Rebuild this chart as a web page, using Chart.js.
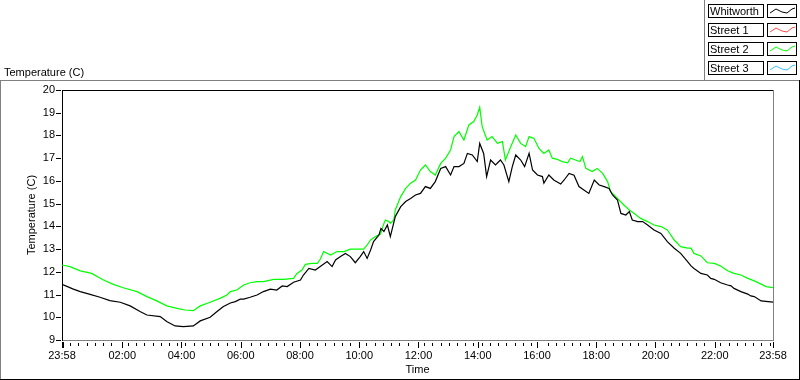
<!DOCTYPE html>
<html><head><meta charset="utf-8">
<script src="https://cdn.jsdelivr.net/npm/chart.js@4.4.1/dist/chart.umd.min.js"></script>
<style>html,body{margin:0;padding:0;background:#fff;}canvas{display:block;}</style>
</head><body>
<canvas id="c" width="800" height="380"></canvas>
<script>
const seriesNames = ['Whitworth', 'Street 1', 'Street 2', 'Street 3'];
const seriesColors = ['#000000', '#ff4a4a', '#00ff00', '#38bfff'];

// minutes after the 23:58 start
const whitworthMin = [0,23,37,57,77,97,118,138,158,172,199,212,229,246,266,280,300,314,327,341,351,361,368,381,395,408,422,435,446,456,469,483,489,500,513,523,537,547,554,564,574,584,594,604,611,618,625,631,642,646,652,659,665,675,686,696,706,716,726,736,746,756,767,777,787,794,804,814,821,831,841,846,854,860,868,878,888,895,905,912,919,929,937,946,953,963,973,976,986,996,1010,1017,1027,1037,1047,1057,1067,1078,1088,1098,1108,1115,1125,1132,1142,1149,1155,1166,1176,1186,1199,1213,1226,1240,1253,1267,1274,1280,1294,1307,1314,1321,1334,1348,1355,1361,1375,1389,1395,1402,1416,1440];
const whitworthTemp = [11.45,11.24,11.13,11.01,10.88,10.73,10.66,10.50,10.25,10.10,10.03,9.81,9.62,9.59,9.62,9.84,10.00,10.25,10.47,10.63,10.69,10.80,10.80,10.88,10.98,11.13,11.24,11.20,11.38,11.35,11.54,11.64,11.86,12.15,12.08,12.23,12.45,12.23,12.52,12.67,12.81,12.67,12.40,12.67,12.89,12.59,12.96,13.33,13.62,13.91,13.77,14.06,13.55,14.43,14.87,15.09,15.23,15.38,15.45,15.75,15.67,15.97,16.55,16.63,16.26,16.63,16.63,16.77,17.21,17.14,16.85,17.65,17.21,16.19,16.92,16.70,16.92,16.70,15.97,16.63,17.14,16.92,16.63,17.21,16.48,16.26,16.19,15.90,16.26,16.04,15.86,16.04,16.33,16.25,15.75,15.60,15.45,16.04,15.82,15.75,15.67,15.38,15.16,14.57,14.50,14.65,14.28,14.21,14.21,14.06,13.84,13.69,13.33,13.04,12.81,12.45,12.26,12.15,11.93,11.86,11.71,11.67,11.52,11.42,11.38,11.27,11.13,11.02,10.94,10.91,10.72,10.67];

const street1Min = [];
const street1Temp = [];

const street2Min = [0,16,37,60,84,104,124,152,172,192,212,233,249,266,280,300,320,334,341,354,368,381,395,408,429,449,469,476,486,493,506,517,523,530,544,557,571,584,598,611,618,625,635,645,652,655,662,665,672,675,686,696,706,716,726,736,746,756,767,777,787,794,804,814,824,834,841,846,851,861,871,882,892,898,909,919,929,939,946,956,966,976,986,993,1003,1013,1024,1030,1040,1049,1054,1061,1074,1084,1095,1105,1111,1118,1128,1138,1149,1159,1172,1186,1199,1213,1226,1240,1253,1267,1274,1280,1294,1307,1321,1334,1348,1361,1375,1389,1402,1416,1426,1440];
const street2Temp = [12.30,12.23,12.04,11.93,11.64,11.45,11.30,11.13,10.91,10.72,10.50,10.39,10.32,10.29,10.50,10.66,10.83,10.98,11.13,11.20,11.42,11.52,11.57,11.57,11.67,11.67,11.71,11.93,12.08,12.33,12.37,12.37,12.55,12.89,12.74,12.89,12.89,13.00,13.00,13.00,13.18,13.40,13.55,13.66,14.13,14.28,14.21,14.13,14.28,14.72,15.31,15.67,15.90,16.04,16.48,16.70,16.41,16.26,16.77,17.00,17.36,17.95,18.17,17.80,18.46,18.61,18.90,19.24,18.39,17.80,17.95,17.65,17.73,16.92,17.51,18.02,17.65,17.51,17.95,17.87,17.43,17.21,17.36,17.00,16.95,16.85,16.80,17.00,16.92,16.85,17.07,16.55,16.41,16.55,16.33,15.97,15.53,15.38,15.16,14.94,14.72,14.57,14.35,14.21,14.06,13.99,13.84,13.40,13.11,13.04,13.04,12.81,12.70,12.40,12.37,12.26,12.05,11.93,11.86,11.71,11.60,11.46,11.35,11.30];

const street3Min = [];
const street3Temp = [];

const xTickMin = [0,122,242,362,482,602,722,842,962,1082,1202,1322,1440];
const xTickLabels = ['23:58','02:00','04:00','06:00','08:00','10:00','12:00','14:00','16:00','18:00','20:00','22:00','23:58'];
const yTickValues = [9,10,11,12,13,14,15,16,17,18,19,20];

const seriesMin = [whitworthMin, street1Min, street2Min, street3Min];
const seriesTemp = [whitworthTemp, street1Temp, street2Temp, street3Temp];

const FONT = '"Liberation Sans", Arial, sans-serif';
Chart.defaults.font.family = FONT;
Chart.defaults.font.size = 11;
Chart.defaults.color = '#000';

const datasets = seriesNames.map((name, i) => ({
  label: name,
  data: seriesMin[i].map((m, k) => ({x: m, y: seriesTemp[i][k]})),
  borderColor: seriesColors[i],
  backgroundColor: seriesColors[i],
  borderWidth: 1.2,
  pointRadius: 0,
  tension: 0,
  fill: false
}));

const framePlugin = {
  id: 'frame',
  afterDraw(chart) {
    const ctx = chart.ctx;
    const ca = chart.chartArea;
    const xs = chart.scales.x, ys = chart.scales.y;
    ctx.save();
    ctx.lineWidth = 1;
    const line = (x1, y1, x2, y2, c) => {
      ctx.strokeStyle = c; ctx.beginPath(); ctx.moveTo(x1, y1); ctx.lineTo(x2, y2); ctx.stroke();
    };
    // outer frame
    line(0, 80.5, 800, 80.5, '#808080');
    line(0.5, 80, 0.5, 380, '#808080');
    line(799.5, 80, 799.5, 380, '#000');
    line(0, 379.5, 800, 379.5, '#000');
    line(704.5, 0, 704.5, 80, '#808080');
    // plot frame top/right
    line(ca.left, Math.round(ca.top) + 0.5, ca.right + 1, Math.round(ca.top) + 0.5, '#000');
    line(Math.round(ca.right) + 0.5, ca.top, Math.round(ca.right) + 0.5, ca.bottom + 1, '#808080');
    // y ticks
    yTickValues.forEach(v => {
      const y = Math.round(ys.getPixelForValue(v)) + 0.5;
      line(56, y, 61, y, '#000');
    });
    // x ticks: major
    xTickMin.forEach((m, i) => {
      const x = Math.round(xs.getPixelForValue(m)) + 0.5;
      line(x, 342, x, 348, '#000');
      if (i === 0) line(x + 1, 342, x + 1, 348, '#000');
    });
    // minor ticks every 1000 s
    const majorPx = xTickMin.map(m => xs.getPixelForValue(m));
    for (let s = 1000; s < 86400; s += 1000) {
      const px = xs.getPixelForValue(s / 60);
      if (majorPx.some(p => Math.abs(p - px) < 2.7)) continue;
      const x = Math.round(px) + 0.5;
      line(x, 343, x, 346, '#000');
    }
    // legend
    ctx.font = '11px ' + FONT;
    ctx.textBaseline = 'middle';
    ctx.textAlign = 'left';
    chart.data.datasets.forEach((ds, i) => {
      const top = 4 + i * 19;
      ctx.strokeStyle = '#000';
      ctx.strokeRect(708.5, top + 0.5, 55, 13);
      ctx.strokeRect(767.5, top + 0.5, 29, 13);
      ctx.fillStyle = '#000';
      ctx.fillText(ds.label, 710, top + 7.5);
      ctx.strokeStyle = ds.borderColor;
      ctx.beginPath();
      const pts = [[770, 9], [776, 5], [782, 8], [787, 9], [792, 5], [795, 4]];
      pts.forEach((p, k) => k ? ctx.lineTo(p[0], top + p[1]) : ctx.moveTo(p[0], top + p[1]));
      ctx.stroke();
    });
    ctx.restore();
  }
};

new Chart(document.getElementById('c'), {
  type: 'line',
  data: { datasets },
  plugins: [framePlugin],
  options: {
    responsive: false,
    animation: false,
    devicePixelRatio: 1,
    layout: { padding: { left: 4, right: 27, top: 0, bottom: 0 } },
    plugins: {
      legend: { display: false },
      tooltip: { enabled: false },
      title: {
        display: true, text: 'Temperature (C)', align: 'start',
        color: '#000', font: { size: 11, weight: 'normal', family: FONT },
        padding: { top: 66, bottom: 10.8 }
      }
    },
    scales: {
      x: {
        type: 'linear', min: 0, max: 1440,
        afterBuildTicks: s => { s.ticks = xTickMin.map(v => ({ value: v })); },
        afterFit: s => { s.height = 40; },
        ticks: { autoSkip: false, maxRotation: 0, padding: 9, color: '#000',
                 callback: (v, i) => xTickLabels[i] },
        grid: { display: false, drawTicks: false },
        border: { display: true, color: '#808080', width: 1 },
        title: { display: true, text: 'Time', color: '#000', padding: { top: 0, bottom: 3 } }
      },
      y: {
        type: 'linear', min: 9, max: 20,
        afterBuildTicks: s => { s.ticks = yTickValues.map(v => ({ value: v })); },
        afterFit: s => { s.width = 58; },
        ticks: { padding: 7, color: '#000' },
        grid: { display: false, drawTicks: false },
        border: { display: true, color: '#000', width: 1 },
        title: { display: true, text: 'Temperature (C)', color: '#000', padding: { top: 21, bottom: 0 } }
      }
    }
  }
});
</script>
</body></html>
